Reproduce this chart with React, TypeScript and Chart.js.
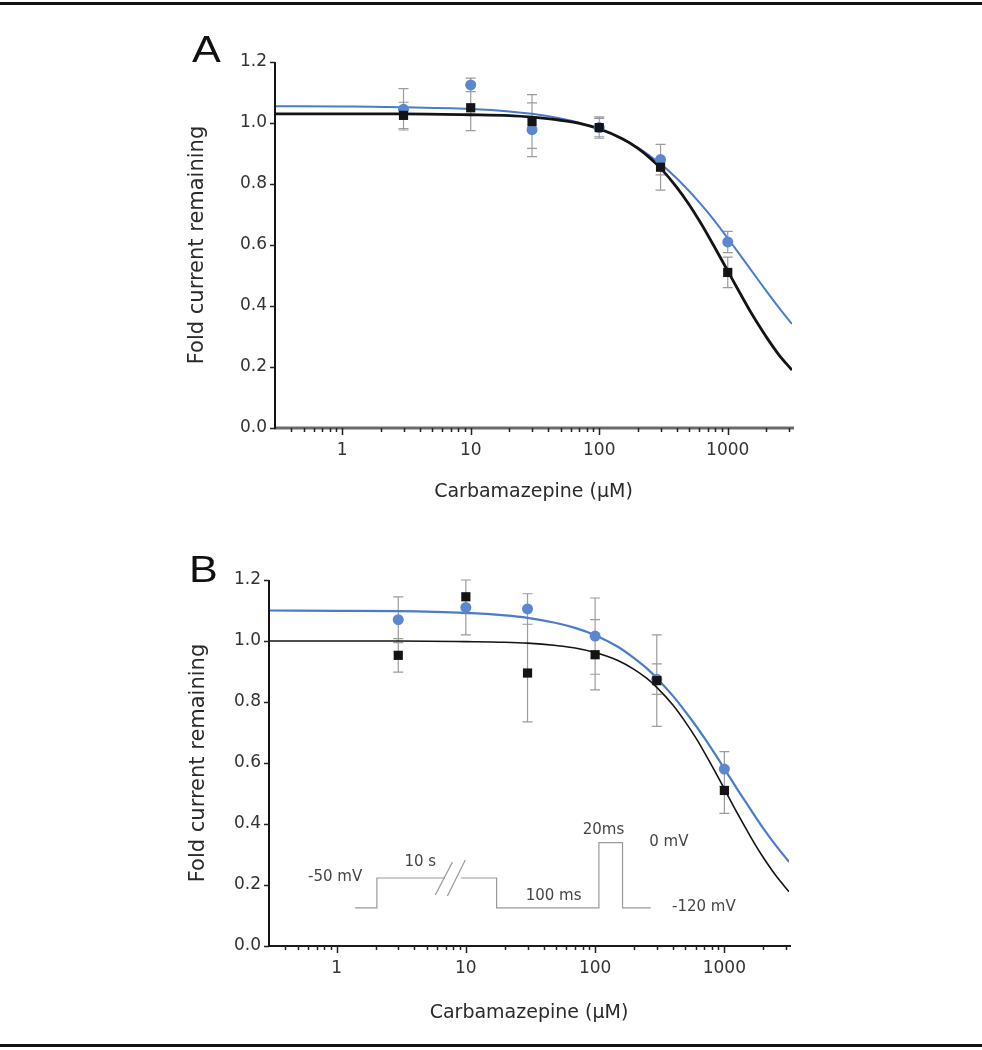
import React, { useEffect, useRef } from "react";
import { Chart, registerables } from "chart.js";

Chart.register(...registerables);

// ---------------- DATA ----------------
const concentrations = [3, 10, 30, 100, 300, 1000];

// Panel A
const blackA = [1.025, 1.05, 1.005, 0.985, 0.855, 0.51];
const blackAErr = [0.043, 0.075, 0.088, 0.035, 0.075, 0.05];
const blueA = [1.045, 1.125, 0.978, 0.985, 0.88, 0.61];
const blueAErr = [0.068, 0.022, 0.088, 0.03, 0.05, 0.035];

// Panel B
const blackB = [0.953, 1.145, 0.895, 0.955, 0.87, 0.51];
const blackBErr = [0.055, 0.055, 0.16, 0.115, 0.15, 0.075];
const blueB = [1.07, 1.11, 1.105, 1.016, 0.875, 0.58];
const blueBErr = [0.075, 0.09, 0.05, 0.125, 0.05, 0.057];

// Fitted curves at these concentrations
const curveX = [0.3, 1, 3, 10, 20, 30, 50, 70, 100, 150, 200, 250, 300, 400, 500, 600, 700, 850, 1000, 1250, 1500, 1750, 2000, 2500, 3162];
const fitBlackA = [1.03, 1.03, 1.03, 1.027, 1.024, 1.019, 1.009, 0.999, 0.981, 0.949, 0.917, 0.884, 0.852, 0.79, 0.733, 0.68, 0.632, 0.569, 0.515, 0.441, 0.382, 0.336, 0.298, 0.24, 0.19];
const fitBlueA = [1.055, 1.054, 1.052, 1.046, 1.038, 1.03, 1.015, 1.001, 0.98, 0.948, 0.919, 0.891, 0.866, 0.819, 0.777, 0.74, 0.707, 0.662, 0.622, 0.567, 0.521, 0.482, 0.449, 0.395, 0.341];
const fitBlackB = [1.0, 1.0, 1.0, 0.998, 0.996, 0.993, 0.985, 0.977, 0.962, 0.936, 0.907, 0.878, 0.848, 0.79, 0.734, 0.683, 0.635, 0.571, 0.515, 0.438, 0.378, 0.329, 0.29, 0.231, 0.178];
const fitBlueB = [1.1, 1.099, 1.098, 1.092, 1.084, 1.076, 1.059, 1.043, 1.019, 0.981, 0.944, 0.911, 0.878, 0.82, 0.768, 0.723, 0.682, 0.628, 0.581, 0.516, 0.465, 0.422, 0.386, 0.33, 0.276];

// Axes
const xMin = 0.3;
const xMax = 3162;
const xMajorTicks = [1, 10, 100, 1000];
const xMinorTicks = [0.4, 0.5, 0.6, 0.7, 0.8, 0.9, 2, 3, 4, 5, 6, 7, 8, 9, 20, 30, 40, 50, 60, 70, 80, 90, 200, 300, 400, 500, 600, 700, 800, 900, 2000, 3000];
const yTicks = [0, 0.2, 0.4, 0.6, 0.8, 1.0, 1.2];
const xTitle = "Carbamazepine (µM)";
const yTitle = "Fold current remaining";

// Inset voltage protocol (panel B), in data coordinates
const protocolX = [1.39, 2.05, 2.05, 6.9, null, 9.2, 17.3, 17.3, 107, 107, 163, 163, 269];
const protocolY = [0.125, 0.125, 0.223, 0.223, null, 0.223, 0.223, 0.125, 0.125, 0.339, 0.339, 0.125, 0.125];
const breakX1 = [5.8, 7.2];
const breakY1 = [0.167, 0.164];
const breakX2 = [7.87, 9.9];
const breakY2 = [0.275, 0.282];
const insetLabels = ["-50 mV", "10 s", "100 ms", "20ms", "0 mV", "-120 mV"];
const insetLabelX = [0.975, 4.44, 47.7, 116, 372, 694];
const insetLabelY = [0.226, 0.275, 0.164, 0.38, 0.341, 0.128];

// ---------------- STYLE ----------------
const FONT = "'DejaVu Sans', 'Liberation Sans', sans-serif";
const BLUE_LINE = "#4a7bcf";
const BLUE_POINT = "#5b87d0";
const BLACK = "#141414";
const ERR = "#9c9c9c";

type PanelSpec = {
  letter: string;
  black: number[];
  blackErr: number[];
  blue: number[];
  blueErr: number[];
  fitBlack: number[];
  fitBlue: number[];
  width: number;
  height: number;
  pad: { left: number; right: number; top: number; bottom: number };
  yWidth: number;
  xHeight: number;
  xTitlePad: number;
  yTitlePad: number;
  xAxisColor: string;
  xAxisWidth: number;
  blackWidth: number;
  blueWidth: number;
  letterDx: number;
  letterDy: number;
  inset: boolean;
};

function buildChart(canvas: HTMLCanvasElement, p: PanelSpec) {
  const pts = (vals: number[]) => concentrations.map((c, i) => ({ x: c, y: vals[i] }));
  const curve = (vals: number[]) => curveX.map((c, i) => ({ x: c, y: vals[i] }));

  const decor = {
    id: "decor" + p.letter,
    beforeDatasetsDraw(chart: any) {
      const { ctx } = chart;
      const x = chart.scales.x;
      const y = chart.scales.y;
      ctx.save();
      // inset protocol
      if (p.inset) {
        ctx.strokeStyle = "#9a9a9a";
        ctx.lineWidth = 1.2;
        ctx.beginPath();
        let pen = false;
        protocolX.forEach((vx, i) => {
          const vy = protocolY[i];
          if (vx === null || vy === null) {
            pen = false;
            return;
          }
          const px = x.getPixelForValue(vx);
          const py = y.getPixelForValue(vy);
          if (!pen) {
            ctx.moveTo(px, py);
            pen = true;
          } else ctx.lineTo(px, py);
        });
        ctx.stroke();
        ctx.beginPath();
        breakX1.forEach((bx, i) => {
          ctx.moveTo(x.getPixelForValue(bx), y.getPixelForValue(breakY1[i]));
          ctx.lineTo(x.getPixelForValue(breakX2[i]), y.getPixelForValue(breakY2[i]));
        });
        ctx.stroke();
        ctx.fillStyle = "#454545";
        ctx.font = "15px " + FONT;
        ctx.textAlign = "center";
        ctx.textBaseline = "middle";
        insetLabels.forEach((t, i) => {
          ctx.fillText(t, x.getPixelForValue(insetLabelX[i]), y.getPixelForValue(insetLabelY[i]));
        });
      }
      // error bars
      ctx.strokeStyle = ERR;
      ctx.lineWidth = 1.2;
      const sets = [
        { v: p.blue, e: p.blueErr },
        { v: p.black, e: p.blackErr },
      ];
      ctx.beginPath();
      sets.forEach((s) => {
        s.v.forEach((val, i) => {
          const px = x.getPixelForValue(concentrations[i]);
          const top = y.getPixelForValue(val + s.e[i]);
          const bot = y.getPixelForValue(val - s.e[i]);
          ctx.moveTo(px, top);
          ctx.lineTo(px, bot);
          ctx.moveTo(px - 5, top);
          ctx.lineTo(px + 5, top);
          ctx.moveTo(px - 5, bot);
          ctx.lineTo(px + 5, bot);
        });
      });
      ctx.stroke();
      ctx.restore();
    },
    afterDraw(chart: any) {
      const { ctx, chartArea } = chart;
      const x = chart.scales.x;
      const y = chart.scales.y;
      const { left, right, top, bottom } = chartArea;
      ctx.save();
      // x axis line
      ctx.strokeStyle = p.xAxisColor;
      ctx.lineWidth = p.xAxisWidth;
      ctx.beginPath();
      ctx.moveTo(left - 1, bottom);
      ctx.lineTo(right + 2, bottom);
      ctx.stroke();
      // y axis line
      ctx.strokeStyle = BLACK;
      ctx.lineWidth = 2;
      ctx.beginPath();
      ctx.moveTo(left, top);
      ctx.lineTo(left, bottom + 1);
      ctx.stroke();
      // ticks
      ctx.strokeStyle = "#222";
      ctx.lineWidth = 1.5;
      ctx.beginPath();
      xMinorTicks.forEach((v) => {
        const px = Math.round(x.getPixelForValue(v)) + 0.5;
        ctx.moveTo(px, bottom);
        ctx.lineTo(px, bottom + 4);
      });
      xMajorTicks.forEach((v) => {
        const px = Math.round(x.getPixelForValue(v)) + 0.5;
        ctx.moveTo(px, bottom);
        ctx.lineTo(px, bottom + 7);
      });
      yTicks.forEach((v) => {
        const py = Math.round(y.getPixelForValue(v)) + 0.5;
        ctx.moveTo(left - 5, py);
        ctx.lineTo(left, py);
      });
      ctx.stroke();
      // panel letter
      ctx.fillStyle = "#111";
      ctx.font = "36px 'Liberation Sans', Arial, sans-serif";
      ctx.textAlign = "left";
      ctx.textBaseline = "alphabetic";
      ctx.translate(left + p.letterDx, top + p.letterDy);
      ctx.scale(1.2, 1);
      ctx.fillText(p.letter, 0, 0);
      ctx.restore();
    },
  };

  return new Chart(canvas, {
    type: "line",
    data: {
      datasets: [
        {
          data: pts(p.black),
          showLine: false,
          pointStyle: "rect",
          pointRadius: 6.5,
          pointBackgroundColor: BLACK,
          pointBorderWidth: 0,
          order: 0,
        },
        {
          data: pts(p.blue),
          showLine: false,
          pointStyle: "circle",
          pointRadius: 5.5,
          pointBackgroundColor: BLUE_POINT,
          pointBorderWidth: 0,
          order: 1,
        },
        {
          data: curve(p.fitBlack),
          borderColor: BLACK,
          borderWidth: p.blackWidth,
          pointRadius: 0,
          cubicInterpolationMode: "monotone",
          fill: false,
          order: 2,
        },
        {
          data: curve(p.fitBlue),
          borderColor: BLUE_LINE,
          borderWidth: p.blueWidth,
          pointRadius: 0,
          cubicInterpolationMode: "monotone",
          fill: false,
          order: 3,
        },
      ],
    } as any,
    options: {
      responsive: false,
      animation: false,
      devicePixelRatio: 1,
      events: [],
      layout: { padding: p.pad },
      plugins: { legend: { display: false }, tooltip: { enabled: false } },
      scales: {
        x: {
          type: "logarithmic",
          min: xMin,
          max: xMax,
          afterBuildTicks: (s: any) => {
            s.ticks = [...xMinorTicks, ...xMajorTicks].sort((a, b) => a - b).map((v) => ({ value: v }));
          },
          afterFit: (s: any) => {
            s.height = p.xHeight;
          },
          grid: { display: false, drawTicks: false },
          border: { display: false },
          ticks: {
            autoSkip: false,
            maxRotation: 0,
            minRotation: 0,
            padding: 12,
            color: "#333",
            font: { family: FONT, size: 17 },
            callback: (v: any) => (xMajorTicks.includes(Number(v)) ? String(v) : ""),
          },
          title: {
            display: true,
            text: xTitle,
            color: "#2a2a2a",
            font: { family: FONT, size: 19 },
            padding: { top: 0, bottom: p.xTitlePad },
          },
        },
        y: {
          type: "linear",
          min: 0,
          max: 1.2,
          afterBuildTicks: (s: any) => {
            s.ticks = yTicks.map((v) => ({ value: v }));
          },
          afterFit: (s: any) => {
            s.width = p.yWidth;
          },
          grid: { display: false, drawTicks: false },
          border: { display: false },
          ticks: {
            padding: 8,
            color: "#333",
            font: { family: FONT, size: 17 },
            callback: (v: any) => Number(v).toFixed(1),
          },
          title: {
            display: true,
            text: yTitle,
            color: "#2a2a2a",
            font: { family: FONT, size: 21 },
            padding: { top: p.yTitlePad, bottom: 0 },
          },
        },
      },
    } as any,
    plugins: [decor],
  });
}

const panelA: PanelSpec = {
  letter: "A",
  black: blackA,
  blackErr: blackAErr,
  blue: blueA,
  blueErr: blueAErr,
  fitBlack: fitBlackA,
  fitBlue: fitBlueA,
  width: 982,
  height: 520,
  pad: { left: 180, right: 190, top: 62, bottom: 8 },
  yWidth: 95,
  xHeight: 84,
  xTitlePad: 8.6,
  yTitlePad: 5.4,
  xAxisColor: "#6a6a6a",
  xAxisWidth: 2.8,
  blackWidth: 2.8,
  blueWidth: 2,
  letterDx: -83,
  letterDy: 0,
  inset: false,
};

const panelB: PanelSpec = {
  letter: "B",
  black: blackB,
  blackErr: blackBErr,
  blue: blueB,
  blueErr: blueBErr,
  fitBlack: fitBlackB,
  fitBlue: fitBlueB,
  width: 982,
  height: 530,
  pad: { left: 180, right: 193, top: 60, bottom: 8 },
  yWidth: 89,
  xHeight: 96,
  xTitlePad: 17.6,
  yTitlePad: 6.4,
  xAxisColor: "#1a1a1a",
  xAxisWidth: 2,
  blackWidth: 1.6,
  blueWidth: 2.2,
  letterDx: -80,
  letterDy: 2,
  inset: true,
};

function Panel({ spec, top }: { spec: PanelSpec; top: number }) {
  const ref = useRef<HTMLCanvasElement | null>(null);
  useEffect(() => {
    if (!ref.current) return;
    const chart = buildChart(ref.current, spec);
    return () => chart.destroy();
  }, [spec]);
  return (
    <canvas
      ref={ref}
      width={spec.width}
      height={spec.height}
      style={{ position: "absolute", left: 0, top, width: spec.width, height: spec.height, display: "block" }}
    />
  );
}

export default function App() {
  return (
    <div
      style={{
        position: "absolute",
        left: 0,
        top: 0,
        width: 982,
        height: 1050,
        background: "#fff",
        overflow: "hidden",
      }}
    >
      <div style={{ position: "absolute", left: 0, top: 2, width: 982, height: 3, background: "#111" }} />
      <Panel spec={panelA} top={0} />
      <Panel spec={panelB} top={520} />
      <div style={{ position: "absolute", left: 0, top: 1044, width: 982, height: 3, background: "#111" }} />
    </div>
  );
}
